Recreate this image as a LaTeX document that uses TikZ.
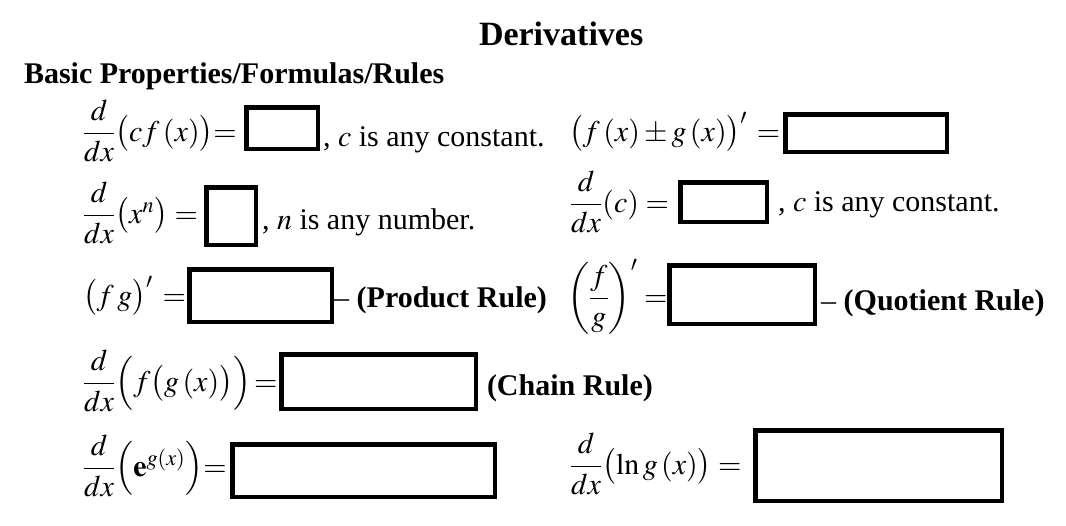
\documentclass[tikz,border=0pt]{standalone}
\usepackage{amsmath}
\usepackage{mathptmx}
\usepackage{fontspec}
\setmainfont{Liberation Serif}
\begin{document}
\begin{tikzpicture}[x=1pt,y=-1pt,
  txt/.style={inner sep=0pt,outer sep=0pt,anchor=base west,font=\fontsize{30}{36}\selectfont},
  headtxt/.style={txt,font=\fontsize{30}{36}\selectfont\bfseries},
  titletxt/.style={txt,font=\fontsize{34}{40}\selectfont\bfseries},
  ansbox/.style={draw=black,line width=4.5pt,inner sep=0pt,outer sep=0pt,fill=white}]
\useasboundingbox[fill=white] (0,0) rectangle (1066,525);
% title and heading
\node[titletxt] (title) at (479,45) {Derivatives};
\node[headtxt] (basic) at (24,83) {Basic Properties/Formulas/Rules};
% row 1
\node[txt] (e1) at (83,141) {$\dfrac{d}{dx}\bigl(cf\,(x)\bigr)\mkern-4mu=$};
\node[ansbox,minimum width=71.5pt,minimum height=41.5pt] (b1) at (282,128) {};
\node[txt] (t1) at (323,146) {, $c$ is any constant.};
\node[txt] (e2) at (569,141) {$\bigl(f\,(x)\pm g\,(x)\bigr)'\,=$};
\node[ansbox,minimum width=161.5pt,minimum height=37.5pt] (b2) at (866,133) {};
% row 2
\node[txt] (e3) at (83,223) {$\dfrac{d}{dx}\bigl(x^{n}\bigr)=$};
\node[ansbox,minimum width=49.5pt,minimum height=57.5pt] (b3) at (231,216) {};
\node[txt] (t3) at (262,229) {, $n$ is any number.};
\node[txt] (e4) at (570,212) {$\dfrac{d}{dx}(c)=$};
\node[ansbox,minimum width=86.5pt,minimum height=39.5pt] (b4) at (723.5,202) {};
\node[txt] (t4) at (778,211) {, $c$ is any constant.};
% row 3
\node[txt] (e5) at (83,305) {$\bigl(f\,g\bigr)'\,=$};
\node[ansbox,minimum width=142.5pt,minimum height=52.5pt] (b5) at (260.5,295.5) {};
\node[txt] (t5) at (334,307) {–\ \textbf{(Product Rule)}};
\node[txt] (e6) at (567,306) {$\biggl(\dfrac{f}{g}\biggr)'=$};
\node[ansbox,minimum width=145.5pt,minimum height=58.5pt] (b6) at (742,294.5) {};
\node[txt] (t6) at (821,310) {–\ \textbf{(Quotient Rule)}};
% row 4
\node[txt] (e7) at (83,391) {$\dfrac{d}{dx}\Bigl(f\bigl(g\,(x)\bigr)\Bigr)\mkern-2mu=$};
\node[ansbox,minimum width=194.5pt,minimum height=54.5pt] (b7) at (378.5,381.5) {};
\node[txt] (t7) at (487,395) {\textbf{(Chain Rule)}};
% row 5
\node[txt] (e8) at (83,476) {$\dfrac{d}{dx}\Bigl(\mathbf{e}^{g(x)}\Bigr)\mkern-4mu=$};
\node[ansbox,minimum width=262.5pt,minimum height=52.5pt] (b8) at (363.5,470.5) {};
\node[txt] (e9) at (570,474) {$\dfrac{d}{dx}\bigl(\ln g\,(x)\bigr)=$};
\node[ansbox,minimum width=246.5pt,minimum height=70.5pt] (b9) at (878.5,465.5) {};
\end{tikzpicture}
\end{document}
